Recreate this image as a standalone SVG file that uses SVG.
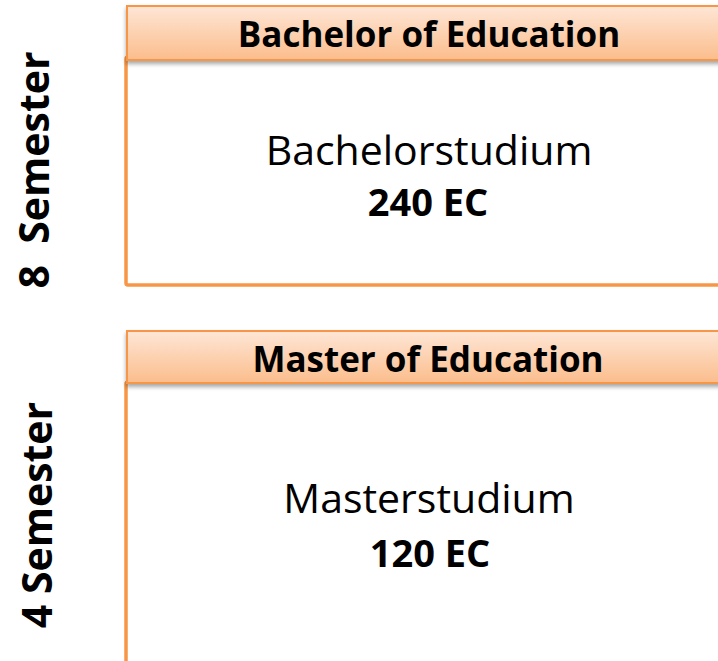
<svg xmlns="http://www.w3.org/2000/svg" width="718" height="661" viewBox="0 0 718 661">
<defs>
<linearGradient id="hg" x1="0" y1="0" x2="0" y2="1">
<stop offset="0" stop-color="#fee6d6"/>
<stop offset="1" stop-color="#fbbd8c"/>
</linearGradient>
<filter id="sh" x="-5%" y="-20%" width="110%" height="160%">
<feGaussianBlur in="SourceAlpha" stdDeviation="2"/>
<feOffset dy="3"/>
<feComponentTransfer><feFuncA type="linear" slope="0.35"/></feComponentTransfer>
<feMerge><feMergeNode/><feMergeNode in="SourceGraphic"/></feMerge>
</filter>
</defs>
<style>
.box{fill:#fff;stroke:#f79646;stroke-width:3.5}
.hdr{fill:url(#hg);stroke:#f79646;stroke-width:2}
.t{font-family:"Open Sans","Liberation Sans",sans-serif;fill:#000;text-anchor:middle;white-space:pre}
.h{font-size:35px;font-weight:bold}
.m{font-size:41px}
.e{font-size:38px;font-weight:bold}
.s{font-size:41px;font-weight:bold}
</style>
<g id="bachelor">
<rect class="box" x="126" y="57" width="600" height="228" rx="2"/>
<rect class="hdr" x="127" y="6" width="600" height="54" filter="url(#sh)"/>
<text class="t h" x="429" y="47">Bachelor of Education</text>
<text class="t m" x="429" y="165">Bachelorstudium</text>
<text class="t e" x="428" y="216">240 EC</text>
<text class="t s" transform="translate(49,170) rotate(-90)">8  Semester</text>
</g>
<g id="master">
<rect class="box" x="126" y="382" width="600" height="300" rx="2"/>
<rect class="hdr" x="127" y="331" width="600" height="52" filter="url(#sh)"/>
<text class="t h" x="428" y="372">Master of Education</text>
<text class="t m" x="429" y="513">Masterstudium</text>
<text class="t e" x="430" y="567">120 EC</text>
<text class="t s" transform="translate(52,515) rotate(-90)">4 Semester</text>
</g>
<g id="connectors"/>
</svg>
